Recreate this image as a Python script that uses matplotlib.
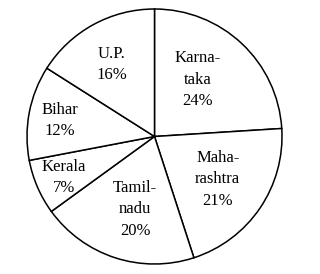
import numpy as np
import matplotlib.pyplot as plt

plt.rcParams['font.family'] = ['Liberation Serif', 'DejaVu Serif']

states = ['Karna-\ntaka', 'Maha-\nrashtra', 'Tamil-\nnadu', 'Kerala', 'Bihar', 'U.P.']
shares = [24, 21, 20, 7, 12, 16]

# where each label sits (fraction of radius) and small angle nudges
label_r = [0.56, 0.60, 0.59, 0.78, 0.75, 0.66]
label_da = [6, 0, 3, 1, 1, 2]

fig = plt.figure(figsize=(3.2, 2.74), dpi=100)
ax = fig.add_axes([27/320, 10/274, 255/320, 255/274])

wedges, _ = ax.pie(shares, startangle=90, counterclock=False,
                   colors=['white'] * len(shares),
                   wedgeprops=dict(edgecolor='black', linewidth=1.1))

for w, name, v, r, da in zip(wedges, states, shares, label_r, label_da):
    mid = np.deg2rad((w.theta1 + w.theta2) / 2 + da)
    ax.text(r * np.cos(mid), r * np.sin(mid), "%s\n%d%%" % (name, v),
            ha='center', va='center', fontsize=12, linespacing=1.45)

ax.set_xlim(-1, 1)
ax.set_ylim(-1, 1)
ax.set_aspect('equal')
ax.axis('off')

plt.savefig("out.png", dpi=100)
